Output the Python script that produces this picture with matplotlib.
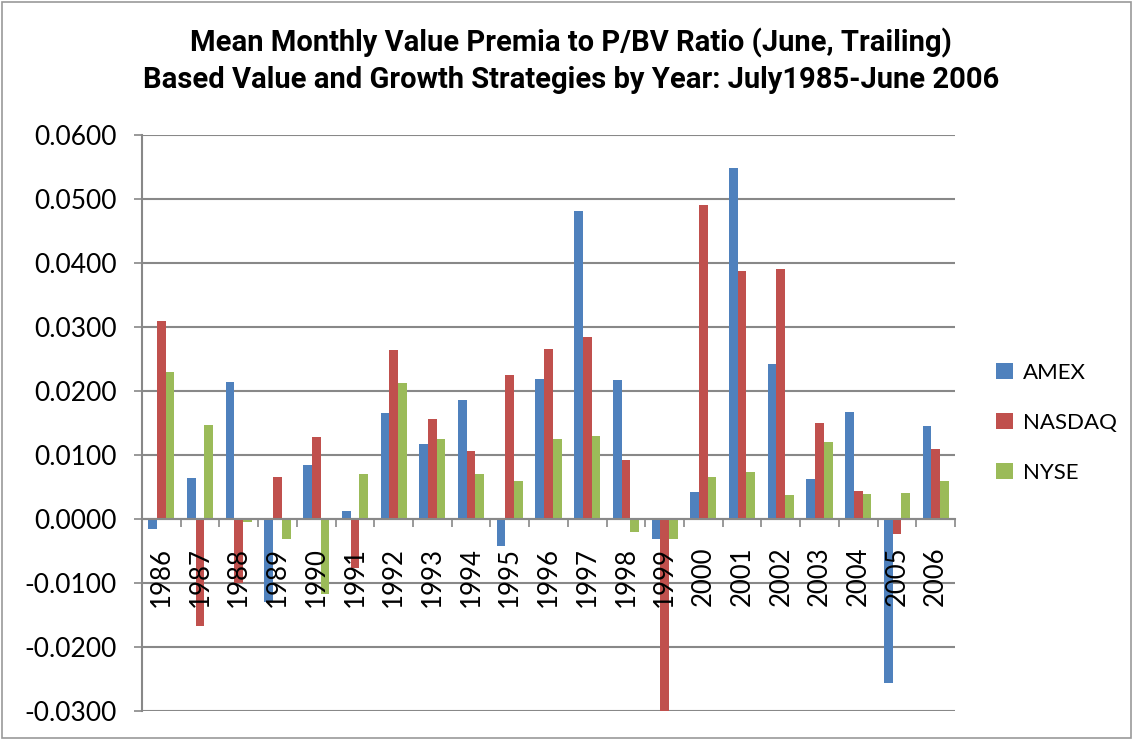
import numpy as np
import matplotlib
matplotlib.use('Agg')
import matplotlib.pyplot as plt
from matplotlib.patches import Rectangle

# data
years = [str(y) for y in range(1986, 2007)]
amex = [-0.0015, 0.0064, 0.0214, -0.0130, 0.0085, 0.0012, 0.0165, 0.0117, 0.0186, -0.0042,
        0.0218, 0.0481, 0.0217, -0.0032, 0.0042, 0.0548, 0.0242, 0.0063, 0.0167, -0.0256, 0.0146]
nasdaq = [0.0310, -0.0167, -0.0100, 0.0065, 0.0128, -0.0077, 0.0264, 0.0157, 0.0106, 0.0225,
          0.0266, 0.0284, 0.0092, -0.0304, 0.0490, 0.0387, 0.0391, 0.0150, 0.0044, -0.0024, 0.0110]
nyse = [0.0229, 0.0147, -0.0005, -0.0031, -0.0117, 0.0071, 0.0213, 0.0125, 0.0070, 0.0060,
        0.0125, 0.0130, -0.0021, -0.0032, 0.0066, 0.0074, 0.0037, 0.0120, 0.0039, 0.0041, 0.0060]
series = {'AMEX': amex, 'NASDAQ': nasdaq, 'NYSE': nyse}
colors = ['#4F81BD', '#C0504D', '#9BBB59']

plt.rcParams['font.family'] = ['Lato', 'DejaVu Sans']
grid_col = '#888888'

fig = plt.figure(figsize=(11.33, 7.40), dpi=100)
ax = fig.add_axes([142/1133, 1 - 711/740, 813/1133, 576/740])

x = np.arange(len(years))
w = 0.224
for k, (name, vals) in enumerate(series.items()):
    ax.bar(x + (k - 1) * w, vals, width=w, color=colors[k], label=name, zorder=2)

ax.set_xlim(-0.5, len(years) - 0.5)
ax.set_ylim(-0.03, 0.06)
ax.set_yticks(np.arange(-0.03, 0.0601, 0.01))
ax.set_yticklabels(['%.4f' % v for v in np.arange(-0.03, 0.0601, 0.01)])
ax.yaxis.grid(True, color=grid_col, linewidth=1.5)
ax.tick_params(axis='y', length=6, width=1.2, color=grid_col, labelsize=19, pad=12)

# category axis sits on the zero line, labels drawn over the bars
ax.spines['bottom'].set_position(('data', 0))
ax.spines['bottom'].set_color(grid_col)
ax.spines['bottom'].set_linewidth(1.5)
ax.spines['bottom'].set_zorder(3)
ax.spines['left'].set_color(grid_col)
ax.spines['left'].set_linewidth(1.5)
ax.spines['top'].set_visible(False)
ax.spines['right'].set_visible(False)
ax.set_xticks(x)
ax.set_xticklabels(years, rotation=90, fontsize=18.5)
ax.set_xticks(np.arange(-0.5, len(years)), minor=True)
ax.tick_params(axis='x', which='major', length=0, pad=20)
ax.tick_params(axis='x', which='minor', length=6, width=1.2, color=grid_col)
ax.xaxis.set_zorder(3)

fig.suptitle('Mean Monthly Value Premia to P/BV Ratio (June, Trailing)\n'
             'Based Value and Growth Strategies by Year: July1985-June 2006',
             fontsize=21, fontweight='bold', family=['Roboto', 'DejaVu Sans'],
             y=0.962, x=0.504, linespacing=1.35)

fig.legend(loc='center left', bbox_to_anchor=(976/1133, 1 - 423/740), frameon=False,
           fontsize=16, handlelength=0.75, handleheight=0.75, labelspacing=1.35, handletextpad=0.45)

fig.patches.append(Rectangle((0.002, 0.003), 0.996, 0.994, transform=fig.transFigure,
                             fill=False, edgecolor='#999999', linewidth=1.2))

fig.savefig('out.png', dpi=100)
